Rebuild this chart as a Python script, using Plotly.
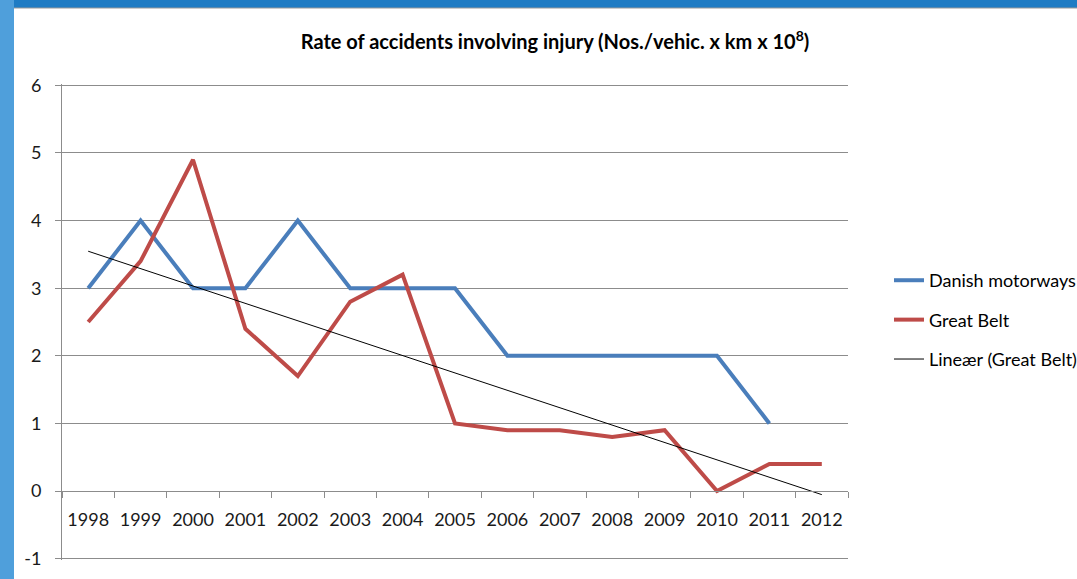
import numpy as np
import plotly.graph_objects as go

years = ["1998", "1999", "2000", "2001", "2002", "2003", "2004", "2005",
         "2006", "2007", "2008", "2009", "2010", "2011", "2012"]
danish_motorways = [3, 4, 3, 3, 4, 3, 3, 3, 2, 2, 2, 2, 2, 1, None]
great_belt = [2.5, 3.4, 4.9, 2.4, 1.7, 2.8, 3.2, 1.0, 0.9, 0.9, 0.8, 0.9, 0.0, 0.4, 0.4]
y_ticks = [-1, 0, 1, 2, 3, 4, 5, 6]
y_tick_text = ["-1", "0", "1", "2", "3", "4", "5", "6"]

# Linear trend line of Great Belt (as Excel's "Lineær" trendline)
xi = np.arange(len(great_belt))
slope, intercept = np.polyfit(xi, np.array(great_belt, dtype=float), 1)
trend = list(intercept + slope * xi)

FONT = "Lato"
GRID = "#8c8c8c"
W, H = 1077, 579
L, T, PW, PH = 62, 84, 786, 476
YR = [-1.02, 6.02]

fig = go.Figure()
fig.add_trace(go.Scatter(x=years, y=danish_motorways, mode="lines",
                         name="Danish motorways", legendgroup="a",
                         line=dict(color="#4a7ebb", width=4), connectgaps=False))
fig.add_trace(go.Scatter(x=years, y=great_belt, mode="lines",
                         name="Great Belt", legendgroup="b",
                         line=dict(color="#be4b48", width=4)))
fig.add_trace(go.Scatter(x=years, y=trend, mode="lines",
                         name="Lineær (Great Belt)", legendgroup="c",
                         line=dict(color="#000000", width=1)))

fig.update_layout(
    width=W, height=H,
    margin=dict(l=L, r=W - L - PW, t=T, b=H - T - PH, autoexpand=False),
    paper_bgcolor="white", plot_bgcolor="white",
    font=dict(family=FONT, color="#1a1a1a", size=18),
    title=dict(text="<b>Rate of accidents involving injury (Nos./vehic. x km x 10<sup>8</sup>)</b>",
               x=555 / W, xanchor="center", y=1 - 42 / H, yanchor="middle",
               font=dict(family=FONT, size=20, color="#000000")),
    showlegend=True,
    legend=dict(x=1.0 + (889 - (L + PW)) / PW, xanchor="left", y=0.626,
                yanchor="top", traceorder="grouped", tracegroupgap=13,
                font=dict(family=FONT, size=18, color="#000000"),
                bgcolor="rgba(0,0,0,0)"),
    xaxis=dict(type="category", range=[-0.5, 14.5], tickson="boundaries",
               ticks="outside", ticklen=6, tickcolor=GRID, tickwidth=1,
               showgrid=False, showline=True, linecolor=GRID, linewidth=1,
               anchor="free", position=(0 - YR[0]) / (YR[1] - YR[0]), zeroline=False,
               ticklabelstandoff=12,
               tickfont=dict(family=FONT, size=18, color="#1a1a1a")),
    yaxis=dict(range=YR, tickvals=y_ticks, ticktext=y_tick_text, ticks="outside", ticklen=6,
               tickcolor=GRID, showgrid=True, gridcolor=GRID, gridwidth=1,
               showline=True, linecolor=GRID, linewidth=1, zeroline=False,
               ticklabelstandoff=10,
               tickfont=dict(family=FONT, size=18, color="#1a1a1a")),
)

# slide frame: top band and left band
fig.add_shape(type="rect", xref="paper", yref="paper",
              x0=-L / PW, x1=(W - L) / PW, y0=1 + (T - 8) / PH, y1=1 + T / PH,
              line=dict(width=0), fillcolor="#1f7cc4", layer="above")
fig.add_shape(type="line", xref="paper", yref="paper",
              x0=(14 - L) / PW, x1=(W - L) / PW, y0=1 + (T - 8) / PH, y1=1 + (T - 8) / PH,
              line=dict(width=1, color="#9a9a9a"), layer="above")
fig.add_shape(type="rect", xref="paper", yref="paper",
              x0=-L / PW, x1=(14 - L) / PW, y0=-(H - T - PH) / PH, y1=1 + T / PH,
              line=dict(width=0), fillcolor="#4f9fdb", layer="above")

fig.write_html("out.html", post_script="document.body.style.margin='0px';",
               config={"displayModeBar": False})
